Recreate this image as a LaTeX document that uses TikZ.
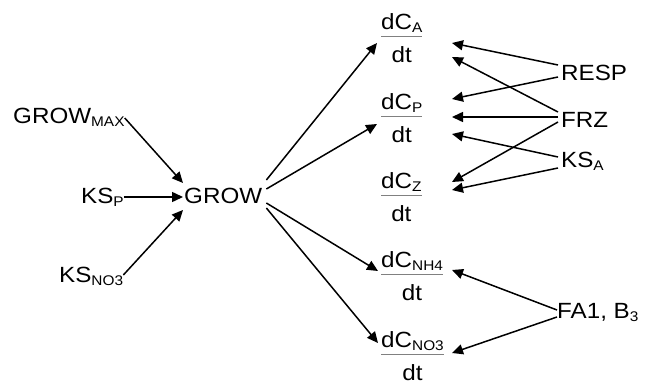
\documentclass[tikz,border=0pt]{standalone}
\usepackage{fontspec}
\setmainfont{Liberation Sans}[FakeStretch=1.1]
\usepackage{colortbl}
\usetikzlibrary{arrows.meta,calc}
\newcommand\sub[1]{\raisebox{-3pt}{\fontsize{14}{14}\selectfont #1}}
\newcommand\frc[1]{{\renewcommand\arraystretch{0}\setlength\arrayrulewidth{1pt}\arrayrulecolor{gray}%
\begin{tabular}[t]{@{}c@{}}\rule[-7pt]{0pt}{7pt}dC\sub{#1}\\\hline\rule{0pt}{25pt}dt\end{tabular}}}
\tikzset{
  lbl/.style={inner sep=0pt, anchor=base west, font=\fontsize{22}{26}\selectfont},
  arr/.style={line width=1.5pt, -{Triangle[length=11pt,width=10pt]}}
}
\begin{document}
\begin{tikzpicture}[x=1pt,y=-1pt]
\useasboundingbox (0,0) rectangle (649,383);
% left
\node[lbl] (gmax) at (13,123) {GROW\sub{MAX}};
\node[lbl] (ksp) at (81,203) {KS\sub{P}};
\node[lbl] (ksno) at (59,282) {KS\sub{NO3}};
\node[lbl] (grow) at (184,203) {GROW};
% fractions
\node[lbl] (fA) at (381,29) {\frc{A}};
\node[lbl] (fP) at (381,109) {\frc{P}};
\node[lbl] (fZ) at (381,188) {\frc{Z}};
\node[lbl] (fN) at (381,267) {\frc{NH4}};
\node[lbl] (fO) at (381,347) {\frc{NO3}};
% right
\node[lbl] (resp) at (561,80) {RESP};
\node[lbl] (frz) at (561,127) {FRZ};
\node[lbl] (ksa) at (561,167) {KS\sub{A}};
\node[lbl] (fab) at (557,318) {FA1, B\sub{3}};
% into GROW
\draw[arr] ($(gmax.base east)+(0,-5)$) -- ($(grow.base west)+(-1,-20)$);
\draw[arr] ($(ksp.base east)+(0,-6)$) -- ($(grow.base west)+(-1,-6)$);
\draw[arr] ($(ksno.base east)+(0,-7)$) -- ($(grow.base west)+(-1,7)$);
% out of GROW
\draw[arr] ($(grow.base east)+(4,-23)$) -- ($(fA.base west)+(-4,14)$);
\draw[arr] ($(grow.base east)+(4,-14)$) -- ($(fP.base west)+(-4,15)$);
\draw[arr] ($(grow.base east)+(4,0)$) -- ($(fN.base west)+(-3,4)$);
\draw[arr] ($(grow.base east)+(4,5)$) -- ($(fO.base west)+(-3,-4)$);
% right side
\draw[arr] ($(resp.base west)+(-3,-15)$) -- ($(fA.base west)+(71,14)$);
\draw[arr] ($(resp.base west)+(-3,-3)$) -- ($(fP.base west)+(71,-10)$);
\draw[arr] ($(frz.base west)+(-3,-15)$) -- ($(fA.base west)+(71,28)$);
\draw[arr] ($(frz.base west)+(-3,-10)$) -- ($(fP.base west)+(71,8)$);
\draw[arr] ($(frz.base west)+(-3,-5)$) -- ($(fZ.base west)+(71,-6)$);
\draw[arr] ($(ksa.base west)+(-3,-10)$) -- ($(fP.base west)+(71,25)$);
\draw[arr] ($(ksa.base west)+(-3,1)$) -- ($(fZ.base west)+(71,2)$);
\draw[arr] ($(fab.base west)+(0,-8)$) -- ($(fN.base west)+(71,3)$);
\draw[arr] ($(fab.base west)+(0,-1)$) -- ($(fO.base west)+(71,6)$);
\end{tikzpicture}
\end{document}
